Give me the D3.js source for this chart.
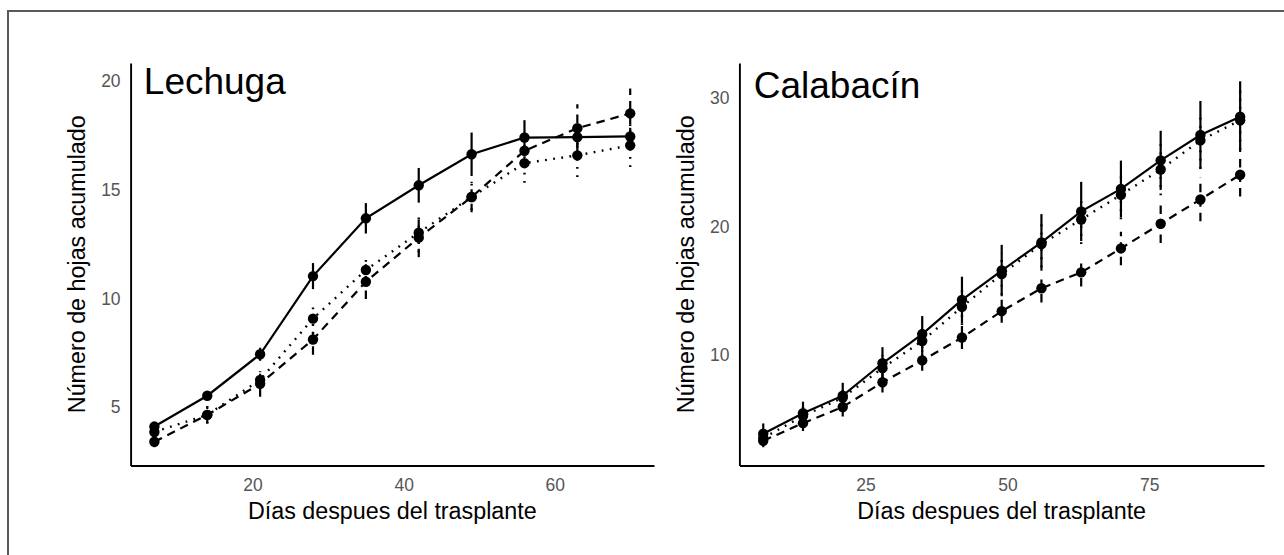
<!DOCTYPE html>
<html>
<head>
<meta charset="utf-8">
<script src="https://cdn.jsdelivr.net/npm/d3@7"></script>
<style>
  body { margin: 0; background: #fff; }
  svg { display: block; font-family: "Liberation Sans", Arial, sans-serif; }
</style>
</head>
<body>
<script>
// --- datos: Lechuga ---
const diasLechuga = [7, 14, 21, 28, 35, 42, 49, 56, 63, 70];
const lechugaA = [4.1, 5.52, 7.43, 11.03, 13.69, 15.21, 16.64, 17.41, 17.43, 17.46];   // continua
const lechugaB = [3.85, 4.64, 6.25, 9.07, 11.31, 13.03, 14.67, 16.23, 16.59, 17.05];  // punteada
const lechugaC = [3.4, 4.64, 6.07, 8.11, 10.77, 12.8, 14.67, 16.8, 17.84, 18.52];     // discontinua
const errLechugaA = [0.15, 0.2, 0.3, 0.6, 0.7, 0.8, 1.0, 0.8, 0.5, 0.4];
const errLechugaB = [0.2, 0.4, 0.4, 0.7, 0.75, 0.9, 0.6, 0.9, 1.0, 1.0];
const errLechugaC = [0.25, 0.4, 0.6, 0.7, 0.8, 0.9, 0.7, 0.8, 1.1, 1.15];
const ticksXLechuga = [20, 40, 60];
const ticksYLechuga = [5, 10, 15, 20];

// --- datos: Calabacín ---
const diasCalabacin = [7, 14, 21, 28, 35, 42, 49, 56, 63, 70, 77, 84, 91];
const calabacinA = [3.89, 5.48, 6.85, 9.37, 11.64, 14.3, 16.58, 18.77, 21.18, 22.93, 25.15, 27.12, 28.55];
const calabacinB = [3.56, 5.26, 6.7, 8.99, 11.1, 13.75, 16.3, 18.63, 20.55, 22.47, 24.44, 26.7, 28.27];
const calabacinC = [3.34, 4.71, 5.97, 7.89, 9.59, 11.37, 13.42, 15.2, 16.44, 18.3, 20.22, 22.11, 24.03];
const errCalabacinA = [0.8, 0.9, 1.0, 1.25, 1.4, 1.8, 2.0, 2.2, 2.3, 2.2, 2.3, 2.65, 2.75];
const errCalabacinB = [0.6, 0.7, 0.8, 1.0, 1.2, 1.4, 1.6, 1.8, 1.9, 1.9, 2.0, 2.2, 2.3];
const errCalabacinC = [0.5, 0.6, 0.75, 0.8, 0.8, 0.9, 0.9, 1.1, 1.1, 1.3, 1.5, 1.7, 1.7];
const ticksXCalabacin = [25, 50, 75];
const ticksYCalabacin = [10, 20, 30];

const tituloX = "Días despues del trasplante";
const tituloY = "Número de hojas acumulado";

const svg = d3.select('body').append('svg').attr('width', 1284).attr('height', 555);

// marco exterior (solo arriba e izquierda visibles)
svg.append('path')
  .attr('d', 'M8,555 L8,11 L1284,11')
  .style('fill', 'none')
  .style('stroke', '#5a5a5a')
  .style('stroke-width', 2);

const estilos = [
  { dash: null, lw: 2.2 },
  { dash: '1.8,6.4', lw: 2.4 },
  { dash: '8.5,6', lw: 2.2 }
];

function panel(cfg) {
  let series = [cfg.a, cfg.b, cfg.c];
  let errs = [cfg.ea, cfg.eb, cfg.ec];

  // rango como ggplot: datos + anotacion, expandido 5%
  let xr = d3.extent(cfg.dias);
  let dx = (xr[1] - xr[0]) * 0.05;
  let lows = [], highs = [cfg.titY];
  series.forEach((s, i) => s.forEach((v, j) => { lows.push(v - errs[i][j]); highs.push(v + errs[i][j]); }));
  let y0 = d3.min(lows), y1 = d3.max(highs), dy = (y1 - y0) * 0.05;

  let x = d3.scaleLinear().domain([xr[0] - dx, xr[1] + dx]).range([cfg.left, cfg.right]);
  let y = d3.scaleLinear().domain([y0 - dy, y1 + dy]).range([cfg.bottom, cfg.top]);

  let g = svg.append('g');

  // ejes
  g.append('g')
    .attr('transform', 'translate(0,' + cfg.bottom + ')')
    .call(d3.axisBottom(x).tickValues(cfg.ticksX).tickSize(0).tickPadding(13))
    .call(a => a.select('.domain').attr('stroke', '#000').attr('stroke-width', 1.9))
    .call(a => a.selectAll('text').attr('fill', '#555').style('font-size', '17.5px'));

  g.append('g')
    .attr('transform', 'translate(' + cfg.left + ',0)')
    .call(d3.axisLeft(y).tickValues(cfg.ticksY).tickSize(0).tickPadding(10))
    .call(a => a.select('.domain').attr('stroke', '#000').attr('stroke-width', 1.9))
    .call(a => a.selectAll('text').attr('fill', '#555').style('font-size', '17.5px'));

  // titulos de ejes
  g.append('text')
    .attr('x', (cfg.left + cfg.right) / 2)
    .attr('y', 519)
    .attr('text-anchor', 'middle')
    .style('font-size', '23.3px')
    .text(tituloX);

  g.append('text')
    .attr('transform', 'translate(' + (cfg.left - 45.5) + ',' + (cfg.top + cfg.bottom) / 2 + ') rotate(-90)')
    .attr('text-anchor', 'middle')
    .style('font-size', '23.3px')
    .text(tituloY);

  // anotacion
  g.append('text')
    .attr('x', x(cfg.titX))
    .attr('y', y(cfg.titY) + 12.5)
    .attr('text-anchor', 'middle')
    .style('font-size', '37px')
    .text(cfg.titulo);

  let linea = d3.line().x(d => x(d[0])).y(d => y(d[1]));

  series.forEach((s, i) => {
    let pts = cfg.dias.map((d, j) => [d, s[j]]);
    g.append('path')
      .attr('d', linea(pts))
      .style('fill', 'none')
      .style('stroke', '#000')
      .style('stroke-width', estilos[i].lw)
      .style('stroke-dasharray', estilos[i].dash);

    g.append('g').selectAll('line')
      .data(pts)
      .join('line')
      .attr('x1', d => x(d[0]))
      .attr('x2', d => x(d[0]))
      .attr('y1', (d, j) => y(d[1] - errs[i][j]))
      .attr('y2', (d, j) => y(d[1] + errs[i][j]))
      .style('stroke', '#000')
      .style('stroke-width', estilos[i].lw)
      .style('stroke-dasharray', estilos[i].dash);
  });

  series.forEach((s, i) => {
    g.append('g').selectAll('circle')
      .data(cfg.dias.map((d, j) => [d, s[j]]))
      .join('circle')
      .attr('cx', d => x(d[0]))
      .attr('cy', d => y(d[1]))
      .attr('r', 5.2)
      .style('fill', '#000');
  });
}

panel({
  dias: diasLechuga, a: lechugaA, b: lechugaB, c: lechugaC,
  ea: errLechugaA, eb: errLechugaB, ec: errLechugaC,
  ticksX: ticksXLechuga, ticksY: ticksYLechuga,
  titulo: 'Lechuga', titX: 15, titY: 20,
  left: 130.6, right: 654, top: 63, bottom: 465.5
});

panel({
  dias: diasCalabacin, a: calabacinA, b: calabacinB, c: calabacinC,
  ea: errCalabacinA, eb: errCalabacinB, ec: errCalabacinC,
  ticksX: ticksXCalabacin, ticksY: ticksYCalabacin,
  titulo: 'Calabacín', titX: 20, titY: 31,
  left: 739.4, right: 1264, top: 63, bottom: 465.5
});
</script>
</body>
</html>
